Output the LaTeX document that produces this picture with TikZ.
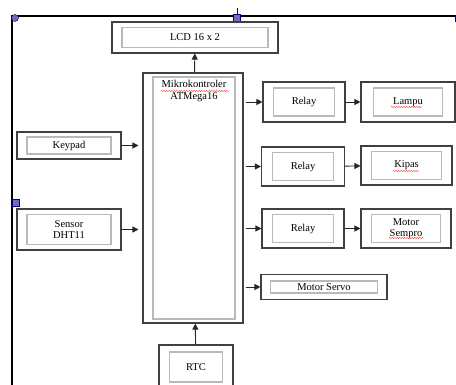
\documentclass[tikz,border=0pt]{standalone}
\usepackage{fontspec}
\setmainfont{Liberation Serif}
\usetikzlibrary{arrows.meta,decorations.pathmorphing}

\tikzset{
  blok/.style={draw=black!75, line width=1.1pt, inner sep=0pt},
  inbox/.style={draw=gray!55, line width=1.1pt, inner sep=0pt, align=center,
    font=\fontsize{10.5}{11.5}\selectfont},
  arr/.style={-{Triangle[length=6pt,width=6pt]}, line width=0.9pt, black!85},
  handle/.style={fill=blue!35!gray!85, draw=blue!45!black, line width=0.4pt},
  squig/.style={red!80, line width=0.4pt, decorate,
    decoration={snake, amplitude=0.6pt, segment length=2.5pt}},
}

\begin{document}
\begin{tikzpicture}[x=1pt,y=-1pt]
			\useasboundingbox (0,0) rectangle (456,385);
			% frame of the picture
			\draw[line width=2.5pt] (12,385) -- (12,16) -- (456,16);
			\draw[blue!40!black, line width=0.5pt] (237,8) -- (237,16);
			\draw[blue!40!black, line width=0.5pt] (455,16) -- (455,22);
			\fill[handle] (15,18) circle (3.5);
			\fill[handle] (233.5,14.5) rectangle (240.5,21.5);
			\fill[handle] (12,199.5) rectangle (19,206.5);
			% blocks
			\foreach \nm/\cx/\cy/\w/\h/\iw/\ih/\txt in {
				lcd/195/37.5/166/31/146/20/{LCD 16 x 2},
				rlA/304/102/82/40/61/28/Relay,
				lampu/408/102/94/40/69/28/Lampu,
				kp/69/145.5/104/27/84/17/Keypad,
				dht/69/229.5/104/41/84/30/{Sensor\\DHT11},
				rlB/303/166.5/83/39/61/28/Relay,
				kipas/406.5/165.5/91/39/70/28/Kipas,
				rlC/303/228.5/82/39/61/28/Relay,
				sempro/406/228.5/90/39/69/28/{Motor\\Sempro},
				servo/324/287/126/25/107/12/{Motor Servo},
				rtc/196/367/74/44/53/30/RTC} {
				\node[blok, minimum width=\w pt, minimum height=\h pt] (\nm) at (\cx,\cy) {};
				\node[inbox, minimum width=\iw pt, minimum height=\ih pt] (\nm-in) at (\nm) {\txt};
			};
			\node[blok, minimum width=100pt, minimum height=250pt] (mikro) at (193,198) {};
			\node[inbox, minimum width=82pt, minimum height=242pt] (mikro-in) at (194,198) {};
			\node[inbox, draw=none, anchor=north, inner sep=1pt] (mikro-txt)
				at ([yshift=-2.5pt]mikro-in.north) {Mikrokontroler\\ATMega16};
			% spelling marks
			\draw[squig] (161,91) -- (229,91);
			\draw[squig] (391,107) -- (422,107);
			\draw[squig] (393,171) -- (419,171);
			\draw[squig] (389,238) -- (424,238);
			% connectors
			\draw[arr] (mikro) -- (lcd);
			\draw[arr] (rtc) -- (mikro);
			\draw[arr] (kp.east) -- ([xshift=-4pt]kp.east -| mikro.west);
			\draw[arr] (dht.east) -- ([xshift=-4pt]dht.east -| mikro.west);
			\foreach \out in {rlA,rlB,rlC,servo} {
				\draw[arr] ([xshift=2pt]mikro.east |- \out) -- (\out.west);
			};
			\draw[arr] (rlA) -- (lampu);
			\draw[arr] (rlB) -- (kipas);
			\draw[arr] (rlC) -- (sempro);
		\end{tikzpicture}
\end{document}
